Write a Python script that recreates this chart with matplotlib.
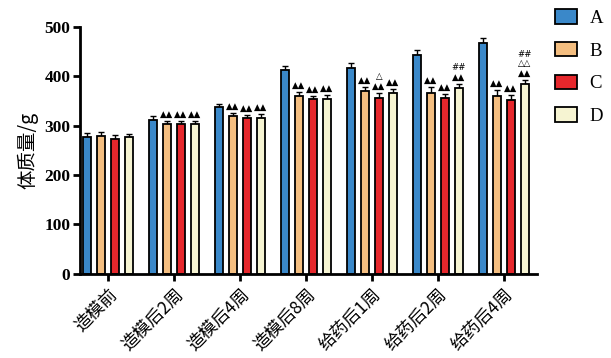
import matplotlib.pyplot as plt
import numpy as np

# 数据
groups = ['造模前', '造模后2周', '造模后4周', '造模后8周', '给药后1周', '给药后2周', '给药后4周']
series = ['A', 'B', 'C', 'D']
A = [277, 312, 337, 413, 416, 443, 468]
B = [279, 303, 319, 361, 370, 366, 361]
C = [274, 303, 315, 353, 356, 355, 352]
D = [277, 303, 316, 354, 366, 377, 384]
A_err = [8, 8, 7, 8, 10, 10, 9]
B_err = [9, 6, 7, 7, 9, 12, 12]
C_err = [8, 6, 6, 7, 11, 9, 11]
D_err = [7, 7, 7, 8, 9, 8, 9]
colors = ['#3a88c9', '#f4be80', '#e6272c', '#f6f4d2']

# 显著性标记 (组, 系列) -> 文本
marks = {
    (1, 1): '▲▲', (1, 2): '▲▲', (1, 3): '▲▲',
    (2, 1): '▲▲', (2, 2): '▲▲', (2, 3): '▲▲',
    (3, 1): '▲▲', (3, 2): '▲▲', (3, 3): '▲▲',
    (4, 1): '▲▲', (4, 2): '△\n▲▲', (4, 3): '▲▲',
    (5, 1): '▲▲', (5, 2): '▲▲', (5, 3): '##\n▲▲',
    (6, 1): '▲▲', (6, 2): '▲▲', (6, 3): '##\n△△\n▲▲',
}

fig = plt.figure(figsize=(6.11, 3.58), dpi=100)
ax = fig.add_axes([0.131, 0.235, 0.748, 0.69])

x = np.arange(len(groups))
step = 0.212
w = 0.12
vals = [A, B, C, D]
errs = [A_err, B_err, C_err, D_err]
for i in range(4):
    xs = x + (i - 1.5) * step
    ax.bar(xs, vals[i], w, color=colors[i], edgecolor='black', linewidth=1.3,
           label=series[i], zorder=2)
    ax.errorbar(xs, vals[i], yerr=[np.zeros(len(groups)), errs[i]], fmt='none',
                ecolor='black', elinewidth=1, capsize=2.2, capthick=1, zorder=1)

for (g, s), t in marks.items():
    xs = x[g] + (s - 1.5) * step
    y = vals[s][g] + errs[s][g] + 4
    ax.text(xs, y, t, ha='center', va='bottom', fontsize=6.2,
            family=['DejaVu Sans'], linespacing=1.05)

ax.set_xlim(-0.42, 6.5)
ax.set_ylim(0, 500)
ax.set_yticks([0, 100, 200, 300, 400, 500])
ax.set_xticks(x)
ax.set_xticklabels(groups, rotation=45, ha='right', rotation_mode='anchor',
                   family=['Noto Sans CJK SC'], fontsize=12.5)
for lbl in ax.get_yticklabels():
    lbl.set_family('Liberation Serif')
    lbl.set_fontweight('bold')
    lbl.set_fontsize(12.5)
ax.set_ylabel('体质量/g', family=['Noto Sans CJK SC'], fontsize=14, labelpad=4)

for sp in ['top', 'right']:
    ax.spines[sp].set_visible(False)
for sp in ['left', 'bottom']:
    ax.spines[sp].set_linewidth(2)
ax.tick_params(axis='both', width=2, length=5)
ax.tick_params(axis='y', pad=2)

fig.legend(loc='upper left', bbox_to_anchor=(0.893, 1.0), frameon=False,
           prop={'family': 'Liberation Serif', 'size': 13.5}, borderpad=0,
           handlelength=1.15, handleheight=0.8, labelspacing=0.8, handletextpad=0.7)

fig.savefig('out.png', dpi=100)
